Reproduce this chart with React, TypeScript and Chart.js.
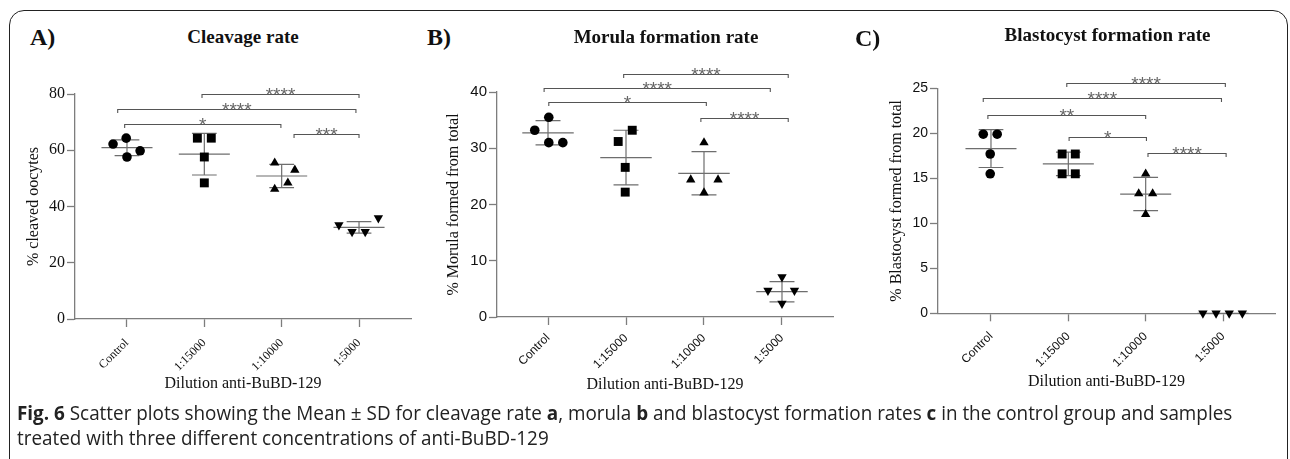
import React, { useEffect, useLayoutEffect, useRef } from "react";
import { Chart, registerables } from "chart.js";

Chart.register(...registerables);

// ---------------- data ----------------
const categories = ["Control", "1:15000", "1:10000", "1:5000"];
const groupIndex = [0, 1, 2, 3];

// Panel A – cleavage rate (% cleaved oocytes)
const cleavageTicks = [0, 20, 40, 60, 80];
const cleavageValues = [
  [62.2, 64.3, 59.8, 57.6],
  [64.3, 64.3, 57.6, 48.4],
  [55.5, 53.0, 48.4, 46.2],
  [33.4, 35.9, 31.0, 31.0],
];
const cleavageSpread = [
  [-0.18, -0.01, 0.17, 0],
  [-0.09, 0.09, 0, 0],
  [-0.09, 0.17, 0.08, -0.09],
  [-0.26, 0.25, -0.09, 0.08],
];
const cleavageMean = [60.9, 58.6, 50.85, 32.55];
const cleavageSd = [2.8, 7.4, 4.15, 2.05];
const cleavageBrackets: [number, number, number, string][] = [
  [0.97, 3.0, 80, "****"],
  [-0.12, 2.96, 74.7, "****"],
  [-0.03, 1.99, 69.3, "*"],
  [2.16, 3.0, 65.8, "***"],
];

// Panel B – morula formation rate
const morulaTicks = [0, 10, 20, 30, 40];
const morulaValues = [
  [33.2, 35.5, 31.0, 31.0],
  [31.2, 33.2, 26.6, 22.2],
  [31.0, 24.4, 24.4, 22.1],
  [7.1, 4.7, 4.7, 2.4],
];
const morulaSpread = [
  [-0.17, 0.01, 0.01, 0.19],
  [-0.1, 0.08, -0.01, -0.01],
  [0, -0.17, 0.18, 0],
  [0, -0.18, 0.16, 0],
];
const morulaMean = [32.75, 28.35, 25.55, 4.5];
const morulaSd = [2.15, 4.85, 3.85, 1.8];
const morulaBrackets: [number, number, number, string][] = [
  [0.97, 3.08, 43.2, "****"],
  [-0.05, 2.85, 40.8, "****"],
  [0.01, 2.03, 38.3, "*"],
  [1.96, 3.08, 35.3, "****"],
];

// Panel C – blastocyst formation rate
const blastocystTicks = [0, 5, 10, 15, 20, 25];
const blastocystValues = [
  [19.9, 19.9, 17.7, 15.5],
  [17.7, 17.7, 15.5, 15.5],
  [15.5, 13.3, 13.3, 11.0],
  [0, 0, 0, 0],
];
const blastocystSpread = [
  [-0.1, 0.08, -0.01, -0.01],
  [-0.08, 0.09, -0.08, 0.09],
  [0, -0.09, 0.09, 0],
  [-0.26, -0.09, 0.08, 0.25],
];
const blastocystMean = [18.3, 16.6, 13.25, 0];
const blastocystSd = [2.1, 1.3, 1.85, 0];
const blastocystBrackets: [number, number, number, string][] = [
  [0.98, 3.03, 25.6, "****"],
  [-0.1, 2.98, 23.9, "****"],
  [-0.04, 2.0, 22.0, "**"],
  [1.01, 2.01, 19.6, "*"],
  [2.03, 3.04, 17.8, "****"],
];

const xAxisTitle = "Dilution anti-BuBD-129";

// ---------------- styles ----------------
const SERIF = "'Liberation Serif', 'Times New Roman', serif";
const SANS = "'Liberation Sans', Arial, sans-serif";
const AXIS = "#7d7d7d";
const BAR = "#6e6e6e";
const BRACKET = "#555555";

const markerStyles = ["circle", "rect", "triangle", "triangle"];
const markerRotations = [0, 0, 0, 180];
const markerRadii = [4.8, 6.3, 5.4, 5.4];

type Panel = {
  key: string;
  box: { left: number; top: number; width: number; height: number };
  padTop: number;
  padRight: number;
  yWidth: number;
  xHeight: number;
  xMin: number;
  xMax: number;
  yTitlePad: number;
  xTitlePad: number;
  catPad: number;
  tickFamily: string;
  tickSize: number;
  catFamily: string;
  catSize: number;
  yTitle: string;
  ticks: number[];
  values: number[][];
  spread: number[][];
  mean: number[];
  sd: number[];
  brackets: [number, number, number, string][];
};

const panels: Panel[] = [
  {
    key: "A",
    box: { left: 12, top: 55, width: 410, height: 345 },
    padTop: 39, padRight: 11, yWidth: 63, xHeight: 81,
    xMin: -0.672, xMax: 3.672,
    yTitlePad: 12.4, xTitlePad: 6.4, catPad: 9,
    tickFamily: SERIF, tickSize: 16, catFamily: SERIF, catSize: 12,
    yTitle: "% cleaved oocytes",
    ticks: cleavageTicks, values: cleavageValues, spread: cleavageSpread,
    mean: cleavageMean, sd: cleavageSd, brackets: cleavageBrackets,
  },
  {
    key: "B",
    box: { left: 432, top: 55, width: 410, height: 345 },
    padTop: 37, padRight: 9, yWidth: 65, xHeight: 83,
    xMin: -0.654, xMax: 3.654,
    yTitlePad: 11.9, xTitlePad: 5.4, catPad: 6,
    tickFamily: SANS, tickSize: 15, catFamily: SANS, catSize: 12,
    yTitle: "% Morula formed from total",
    ticks: morulaTicks, values: morulaValues, spread: morulaSpread,
    mean: morulaMean, sd: morulaSd, brackets: morulaBrackets,
  },
  {
    key: "C",
    box: { left: 872, top: 50, width: 415, height: 350 },
    padTop: 38.3, padRight: 12, yWidth: 66, xHeight: 86.7,
    xMin: -0.685, xMax: 3.672,
    yTitlePad: 15, xTitlePad: 8.4, catPad: 8,
    tickFamily: SANS, tickSize: 14, catFamily: SANS, catSize: 12,
    yTitle: "% Blastocyst formed from total",
    ticks: blastocystTicks, values: blastocystValues, spread: blastocystSpread,
    mean: blastocystMean, sd: blastocystSd, brackets: blastocystBrackets,
  },
];

function makeSummaryPlugin(p: Panel) {
  return {
    id: "meanSd" + p.key,
    beforeDatasetsDraw(chart: any) {
      const { ctx } = chart;
      const x = chart.scales.x;
      const y = chart.scales.y;
      ctx.save();
      ctx.strokeStyle = BAR;
      ctx.lineWidth = 1.2;
      p.mean.forEach((m, i) => {
        const px = x.getPixelForValue(i);
        const hw = x.getPixelForValue(i + 0.33) - px;
        const cw = x.getPixelForValue(i + 0.16) - px;
        const py = y.getPixelForValue(m);
        const top = y.getPixelForValue(m + p.sd[i]);
        const bot = y.getPixelForValue(m - p.sd[i]);
        ctx.beginPath();
        ctx.moveTo(px - hw, py);
        ctx.lineTo(px + hw, py);
        if (p.sd[i] > 0) {
          ctx.moveTo(px, top);
          ctx.lineTo(px, bot);
          ctx.moveTo(px - cw, top);
          ctx.lineTo(px + cw, top);
          ctx.moveTo(px - cw, bot);
          ctx.lineTo(px + cw, bot);
        }
        ctx.stroke();
      });
      ctx.restore();
    },
    afterDatasetsDraw(chart: any) {
      const { ctx } = chart;
      const x = chart.scales.x;
      const y = chart.scales.y;
      ctx.save();
      ctx.strokeStyle = BRACKET;
      ctx.fillStyle = "#666";
      ctx.lineWidth = 1.1;
      const fs = 19;
      ctx.font = `${fs}px ${SANS}`;
      ctx.textAlign = "center";
      ctx.textBaseline = "alphabetic";
      p.brackets.forEach(([a, b, v, label]) => {
        const x1 = x.getPixelForValue(a);
        const x2 = x.getPixelForValue(b);
        const py = Math.round(y.getPixelForValue(v)) + 0.5;
        ctx.beginPath();
        ctx.moveTo(x1, py + 3.5);
        ctx.lineTo(x1, py);
        ctx.lineTo(x2, py);
        ctx.lineTo(x2, py + 3.5);
        ctx.stroke();
        ctx.fillText(label, (x1 + x2) / 2, py + 0.43 * fs - 1.5);
      });
      ctx.restore();
    },
  };
}

function buildConfig(p: Panel): any {
  const datasets = p.values.map((vals, g) => ({
    data: vals.map((v, k) => ({ x: groupIndex[g] + p.spread[g][k], y: v })),
    pointStyle: markerStyles[g],
    pointRotation: markerRotations[g],
    pointRadius: markerRadii[g],
    pointHoverRadius: markerRadii[g],
    backgroundColor: "#000",
    borderColor: "#000",
    borderWidth: 0,
    showLine: false,
    clip: false,
  }));
  const yMin = p.ticks[0];
  const yMax = p.ticks[p.ticks.length - 1];
  return {
    type: "scatter",
    data: { datasets },
    options: {
      responsive: false,
      animation: false,
      events: [],
      layout: { padding: { top: p.padTop, right: p.padRight, left: 0, bottom: 0 } },
      plugins: {
        legend: { display: false },
        tooltip: { enabled: false },
        title: { display: false },
      },
      scales: {
        x: {
          type: "linear",
          min: p.xMin,
          max: p.xMax,
          afterBuildTicks: (s: any) => {
            s.ticks = groupIndex.map((v) => ({ value: v }));
          },
          afterFit: (s: any) => {
            s.height = p.xHeight;
          },
          ticks: {
            callback: (v: number) => categories[v],
            minRotation: 45,
            maxRotation: 45,
            autoSkip: false,
            padding: p.catPad,
            color: "#111",
            font: { family: p.catFamily, size: p.catSize },
          },
          grid: {
            display: true,
            drawOnChartArea: false,
            drawTicks: true,
            tickLength: 8,
            tickColor: AXIS,
            tickWidth: 1.3,
          },
          border: { display: true, color: AXIS, width: 1.3 },
          title: {
            display: true,
            text: xAxisTitle,
            color: "#111",
            font: { family: SERIF, size: 16 },
            padding: { top: 0, bottom: p.xTitlePad },
          },
        },
        y: {
          type: "linear",
          min: yMin,
          max: yMax,
          afterBuildTicks: (s: any) => {
            s.ticks = p.ticks.map((v) => ({ value: v }));
          },
          afterFit: (s: any) => {
            s.width = p.yWidth;
          },
          ticks: {
            padding: 2,
            color: "#111",
            font: { family: p.tickFamily, size: p.tickSize },
          },
          grid: {
            display: true,
            drawOnChartArea: false,
            drawTicks: true,
            tickLength: 8,
            tickColor: AXIS,
            tickWidth: 1.3,
          },
          border: { display: true, color: AXIS, width: 1.3 },
          title: {
            display: true,
            text: p.yTitle,
            color: "#111",
            font: { family: SERIF, size: 16 },
            padding: { top: p.yTitlePad, bottom: 0 },
          },
        },
      },
    },
    plugins: [makeSummaryPlugin(p)],
  };
}

// baseline-positioned text helper (top = baseline - k * size)
function textTop(baseline: number, size: number, family: "serif" | "sans" | "open") {
  const k = family === "serif" ? 0.8375 : family === "sans" ? 0.8465 : 0.888;
  return baseline - k * size;
}

const panelLetters = [
  { text: "A)", left: 30, baseline: 45 },
  { text: "B)", left: 427, baseline: 45 },
  { text: "C)", left: 855, baseline: 46 },
];
const panelTitles = [
  { text: "Cleavage rate", center: 243, baseline: 43 },
  { text: "Morula formation rate", center: 666, baseline: 43 },
  { text: "Blastocyst formation rate", center: 1107.5, baseline: 40.5 },
];

export default function App() {
  const canvasRefs = useRef<(HTMLCanvasElement | null)[]>([]);
  const line1 = useRef<HTMLDivElement>(null);
  const line2 = useRef<HTMLDivElement>(null);

  useEffect(() => {
    const charts = panels.map((p, i) => new Chart(canvasRefs.current[i] as HTMLCanvasElement, buildConfig(p)));
    return () => charts.forEach((c) => c.destroy());
  }, []);

  useLayoutEffect(() => {
    const a = line1.current;
    const b = line2.current;
    if (!a || !b) return;
    const k = 1215 / a.offsetWidth;
    a.style.transform = `scaleX(${k})`;
    b.style.transform = `scaleX(${k})`;
  }, []);

  const capSize = 20;
  const capStyle: React.CSSProperties = {
    position: "absolute",
    left: 16.7,
    fontFamily: "'Open Sans', sans-serif",
    fontSize: capSize,
    lineHeight: `${capSize}px`,
    whiteSpace: "nowrap",
    color: "#222",
    transformOrigin: "0 0",
  };

  return (
    <div
      style={{
        position: "absolute",
        left: 0,
        top: 0,
        width: 1290,
        height: 459,
        overflow: "hidden",
        background: "#fff",
      }}
    >
      <div
        style={{
          position: "absolute",
          left: 9,
          top: 10,
          width: 1279,
          height: 470,
          border: "1.6px solid #222",
          borderRadius: 15,
          boxSizing: "border-box",
        }}
      />
      {panels.map((p, i) => (
        <canvas
          key={p.key}
          ref={(el) => {
            canvasRefs.current[i] = el;
          }}
          width={p.box.width}
          height={p.box.height}
          style={{
            position: "absolute",
            left: p.box.left,
            top: p.box.top,
            width: p.box.width,
            height: p.box.height,
          }}
        />
      ))}
      {panelLetters.map((l) => (
        <div
          key={l.text}
          style={{
            position: "absolute",
            left: l.left,
            top: textTop(l.baseline, 24, "serif"),
            fontFamily: SERIF,
            fontWeight: "bold",
            fontSize: 24,
            lineHeight: "24px",
            color: "#111",
            whiteSpace: "nowrap",
          }}
        >
          {l.text}
        </div>
      ))}
      {panelTitles.map((t) => (
        <div
          key={t.text}
          style={{
            position: "absolute",
            left: t.center,
            top: textTop(t.baseline, 19, "serif"),
            transform: "translateX(-50%)",
            fontFamily: SERIF,
            fontWeight: "bold",
            fontSize: 19,
            lineHeight: "19px",
            color: "#111",
            whiteSpace: "nowrap",
          }}
        >
          {t.text}
        </div>
      ))}
      <div ref={line1} style={{ ...capStyle, top: textTop(420.5, capSize, "open") }}>
        <b>Fig. 6</b> Scatter plots showing the Mean ± SD for cleavage rate <b>a</b>, morula <b>b</b> and
        blastocyst formation rates <b>c</b> in the control group and samples
      </div>
      <div ref={line2} style={{ ...capStyle, top: textTop(445.5, capSize, "open") }}>
        treated with three different concentrations of anti-BuBD-129
      </div>
    </div>
  );
}
